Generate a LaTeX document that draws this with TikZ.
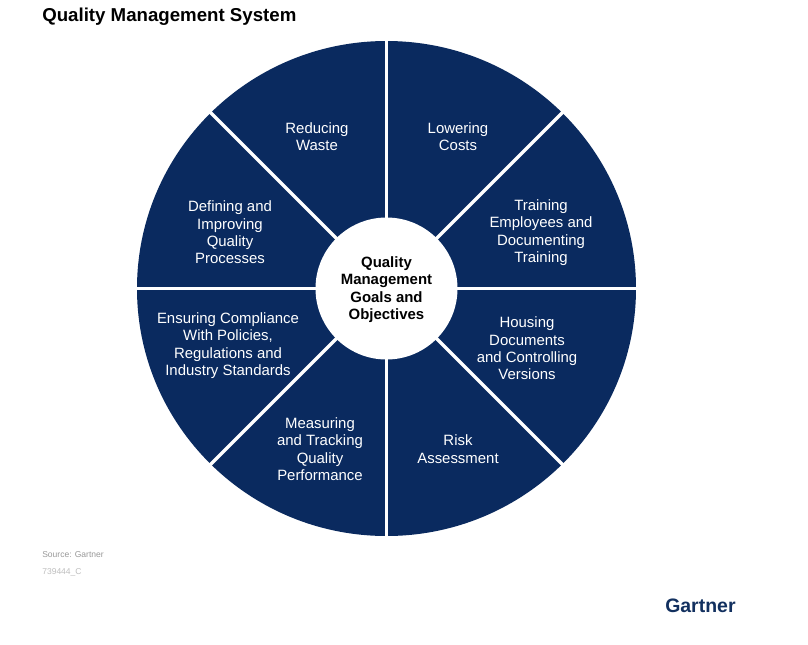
\documentclass[tikz,border=0pt]{standalone}
\usepackage{fontspec}
\setmainfont{Liberation Sans}
\definecolor{navy}{HTML}{0A2A5F}
\definecolor{gartner}{HTML}{12305F}
\tikzset{
 lbl/.style={text=white,align=center,font=\fontsize{11.2}{13}\selectfont,inner sep=0pt},
 hubtext/.style={align=center,font=\fontsize{11.2}{13}\selectfont\bfseries,inner sep=0pt},
 title/.style={anchor=west,font=\fontsize{14}{16}\selectfont\bfseries,inner sep=0pt},
 src/.style={anchor=west,font=\fontsize{6.4}{8}\selectfont,inner sep=0pt}}
\begin{document}
\begin{tikzpicture}[x=0.75pt,y=-0.75pt]
\useasboundingbox (0,0) rectangle (808,644);
\fill[white] (0,0) rectangle (808,644);
\coordinate (c) at (386.5,288.5);
\fill[navy] (c) ellipse [x radius=249.5,y radius=247.5];
\foreach \a in {0,45,...,315}{\draw[white,line width=2.5pt] (c) -- ++(\a:253);}
\node[circle,fill=white,minimum size=106.5pt,inner sep=0pt] (hub) at (c) {};
\node[hubtext] (hubt) at (386.5,289.5) {Quality\\Management\\Goals and\\Objectives};
\node[title] (title) at (42,16.5) {Quality Management System};
\foreach \n/\x/\y/\t in {a/317/136.5/{Reducing\\Waste},b/458/136.5/{Lowering\\Costs},c1/541/232.5/{Training\\Employees and\\Documenting\\Training},d/527/348.5/{Housing\\Documents\\and Controlling\\Versions},e/458/449/{Risk\\Assessment},f/320/449/{Measuring\\and Tracking\\Quality\\Performance},g/228/345.5/{Ensuring Compliance\\With Policies,\\Regulations and\\Industry Standards},h/230/232.5/{Defining and\\Improving\\Quality\\Processes}}
 {\node[lbl] (\n) at (\x,\y) {\t};}
\node[src,text=gray!80] (s1) at (42,555) {Source: Gartner};
\node[src,text=gray!50] (s2) at (42,572) {739444\_C};
\node[anchor=west,inner sep=0pt,font=\fontsize{14.6}{16}\selectfont\bfseries,text=gartner] (g) at (665,606) {Gartner};
\end{tikzpicture}
\end{document}
